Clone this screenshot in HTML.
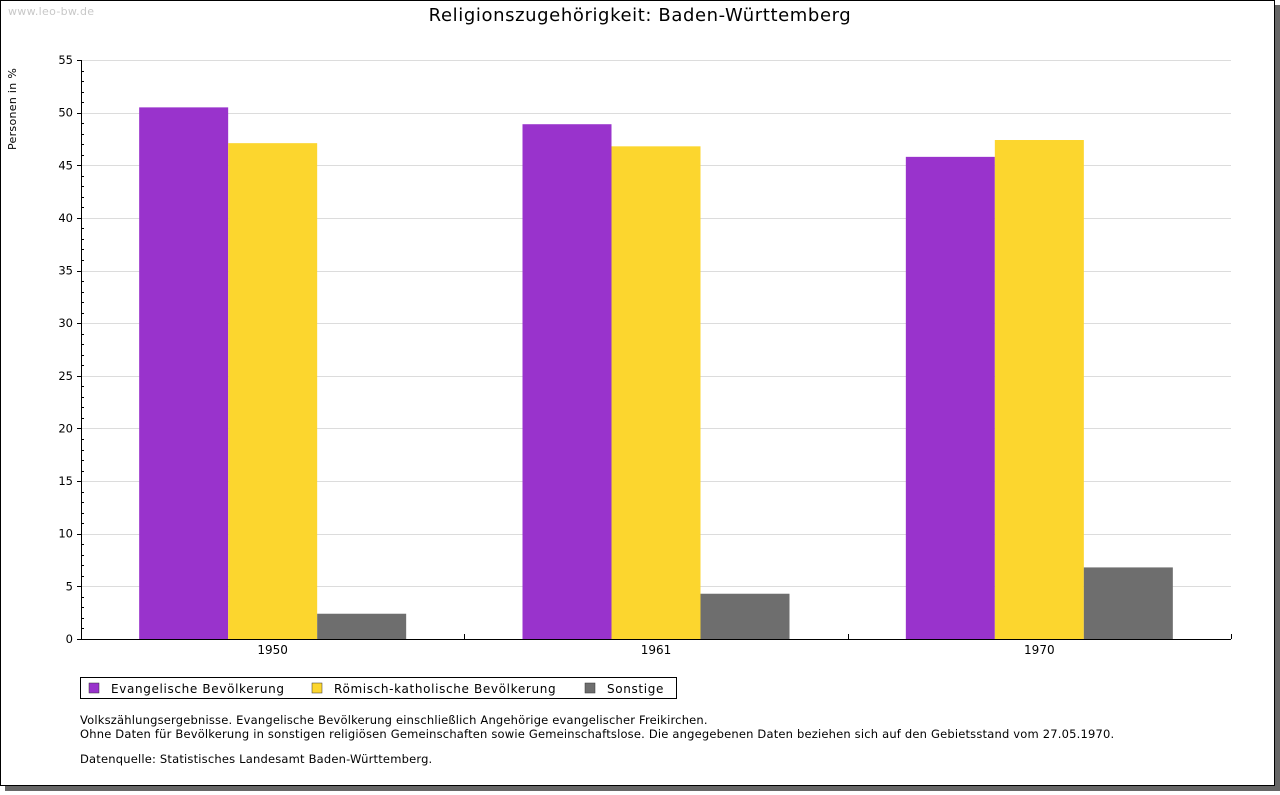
<!DOCTYPE html>
<html><head><meta charset="utf-8"><style>
body{margin:0;background:#fff;width:1280px;height:791px;overflow:hidden;font-family:"DejaVu Sans","Liberation Sans",sans-serif;}
</style></head><body>
<svg width="1280" height="791" xmlns="http://www.w3.org/2000/svg" font-family="DejaVu Sans, Liberation Sans, sans-serif">
<rect x="5" y="5" width="1275" height="786" fill="#666"/>
<rect x="0.5" y="0.5" width="1274" height="785" fill="#fff" stroke="#000"/>
<text x="8" y="15" font-size="11" fill="#c8c8c8" letter-spacing="0.3">www.leo-bw.de</text>
<text x="640" y="21" font-size="18" letter-spacing="0.6" text-anchor="middle">Religionszugehörigkeit: Baden-Württemberg</text>
<text transform="translate(16,150) rotate(-90)" font-size="11" letter-spacing="0.3">Personen in %</text>
<g id="grid"></g><g id="bars"></g><g id="axes"></g>
<g font-size="12" letter-spacing="0.65">
<rect x="80.5" y="677.5" width="596" height="21" fill="#fff" stroke="#000"/>
<rect x="89" y="683" width="10" height="10" fill="#9933cc" stroke="#333" stroke-width="0.5"/>
<text x="111" y="693">Evangelische Bevölkerung</text>
<rect x="312" y="683" width="10" height="10" fill="#fcd62e" stroke="#333" stroke-width="0.5"/>
<text x="334" y="693">Römisch-katholische Bevölkerung</text>
<rect x="585" y="683" width="10" height="10" fill="#6e6e6e" stroke="#333" stroke-width="0.5"/>
<text x="607" y="693">Sonstige</text>
</g>
<g font-size="11.5" letter-spacing="0.19">
<text x="80" y="724">Volkszählungsergebnisse. Evangelische Bevölkerung einschließlich Angehörige evangelischer Freikirchen.</text>
<text x="80" y="738">Ohne Daten für Bevölkerung in sonstigen religiösen Gemeinschaften sowie Gemeinschaftslose. Die angegebenen Daten beziehen sich auf den Gebietsstand vom 27.05.1970.</text>
<text x="80" y="763">Datenquelle: Statistisches Landesamt Baden-Württemberg.</text>
</g>
</svg>
<script>
const categories=["1950","1961","1970"];
const evangelisch=[50.5,48.9,45.8];
const katholisch=[47.1,46.8,47.4];
const sonstige=[2.4,4.3,6.8];
const yTicks=[0,5,10,15,20,25,30,35,40,45,50,55];
const NS="http://www.w3.org/2000/svg";
const X0=81,X1=1231,Y0=639,Y1=60,YMAX=55;
const y=v=>Y0-(v/YMAX)*(Y0-Y1);
const gw=(X1-X0)/categories.length;
function mk(t,a,p){const e=document.createElementNS(NS,t);for(const k in a)e.setAttribute(k,a[k]);p.appendChild(e);return e;}
const grid=document.getElementById('grid'),bars=document.getElementById('bars'),axes=document.getElementById('axes');
yTicks.forEach(v=>{
  if(v>0){const l=mk('line',{x1:X0,x2:X1,y1:Math.round(y(v))+0.5,y2:Math.round(y(v))+0.5,stroke:'#dcdcdc'},grid);
  
  }
  const t=mk('line',{x1:X0-4,x2:X0,y1:Math.round(y(v))+0.5,y2:Math.round(y(v))+0.5,stroke:'#000'},axes);
  
  
  const tx=mk('text',{x:X0-8,y:y(v)+4,'font-size':11.5,'text-anchor':'end'},axes);tx.textContent=v;
  
  
});
for(let v=1;v<YMAX;v++){if(v%5===0)continue;
  const m=mk('line',{x1:X0,x2:X0+3,y1:Math.round(y(v))+0.5,y2:Math.round(y(v))+0.5,stroke:'#000'},axes);
  
  }
const series=[[evangelisch,'#9933cc','evangelisch'],[katholisch,'#fcd62e','katholisch'],[sonstige,'#6e6e6e','sonstige']];
const bw=89,off=(gw-3*bw)/2;
categories.forEach((c,i)=>{
  series.forEach((s,j)=>{
    const r=mk('rect',{x:X0+i*gw+off+j*bw,y:y(s[0][i]),width:bw,height:Y0-y(s[0][i]),fill:s[1]},bars);
    
    
  });
  const t=mk('text',{x:X0+i*gw+gw/2,y:Y0+15,'font-size':12,'text-anchor':'middle'},axes);t.textContent=c;
  
  
  if(i>0){const tk=mk('line',{x1:Math.round(X0+i*gw)+0.5,x2:Math.round(X0+i*gw)+0.5,y1:Y0-5,y2:Y0,stroke:'#000'},axes);
  
  }
});
const ya=mk('line',{x1:X0+0.5,x2:X0+0.5,y1:Y1,y2:Y0,stroke:'#000'},axes);


const xa=mk('line',{x1:X0,x2:X1,y1:Y0+0.5,y2:Y0+0.5,stroke:'#000'},axes);


const xe=mk('line',{x1:X1+0.5,x2:X1+0.5,y1:Y0-5,y2:Y0,stroke:'#000'},axes);


</script>
</body></html>
